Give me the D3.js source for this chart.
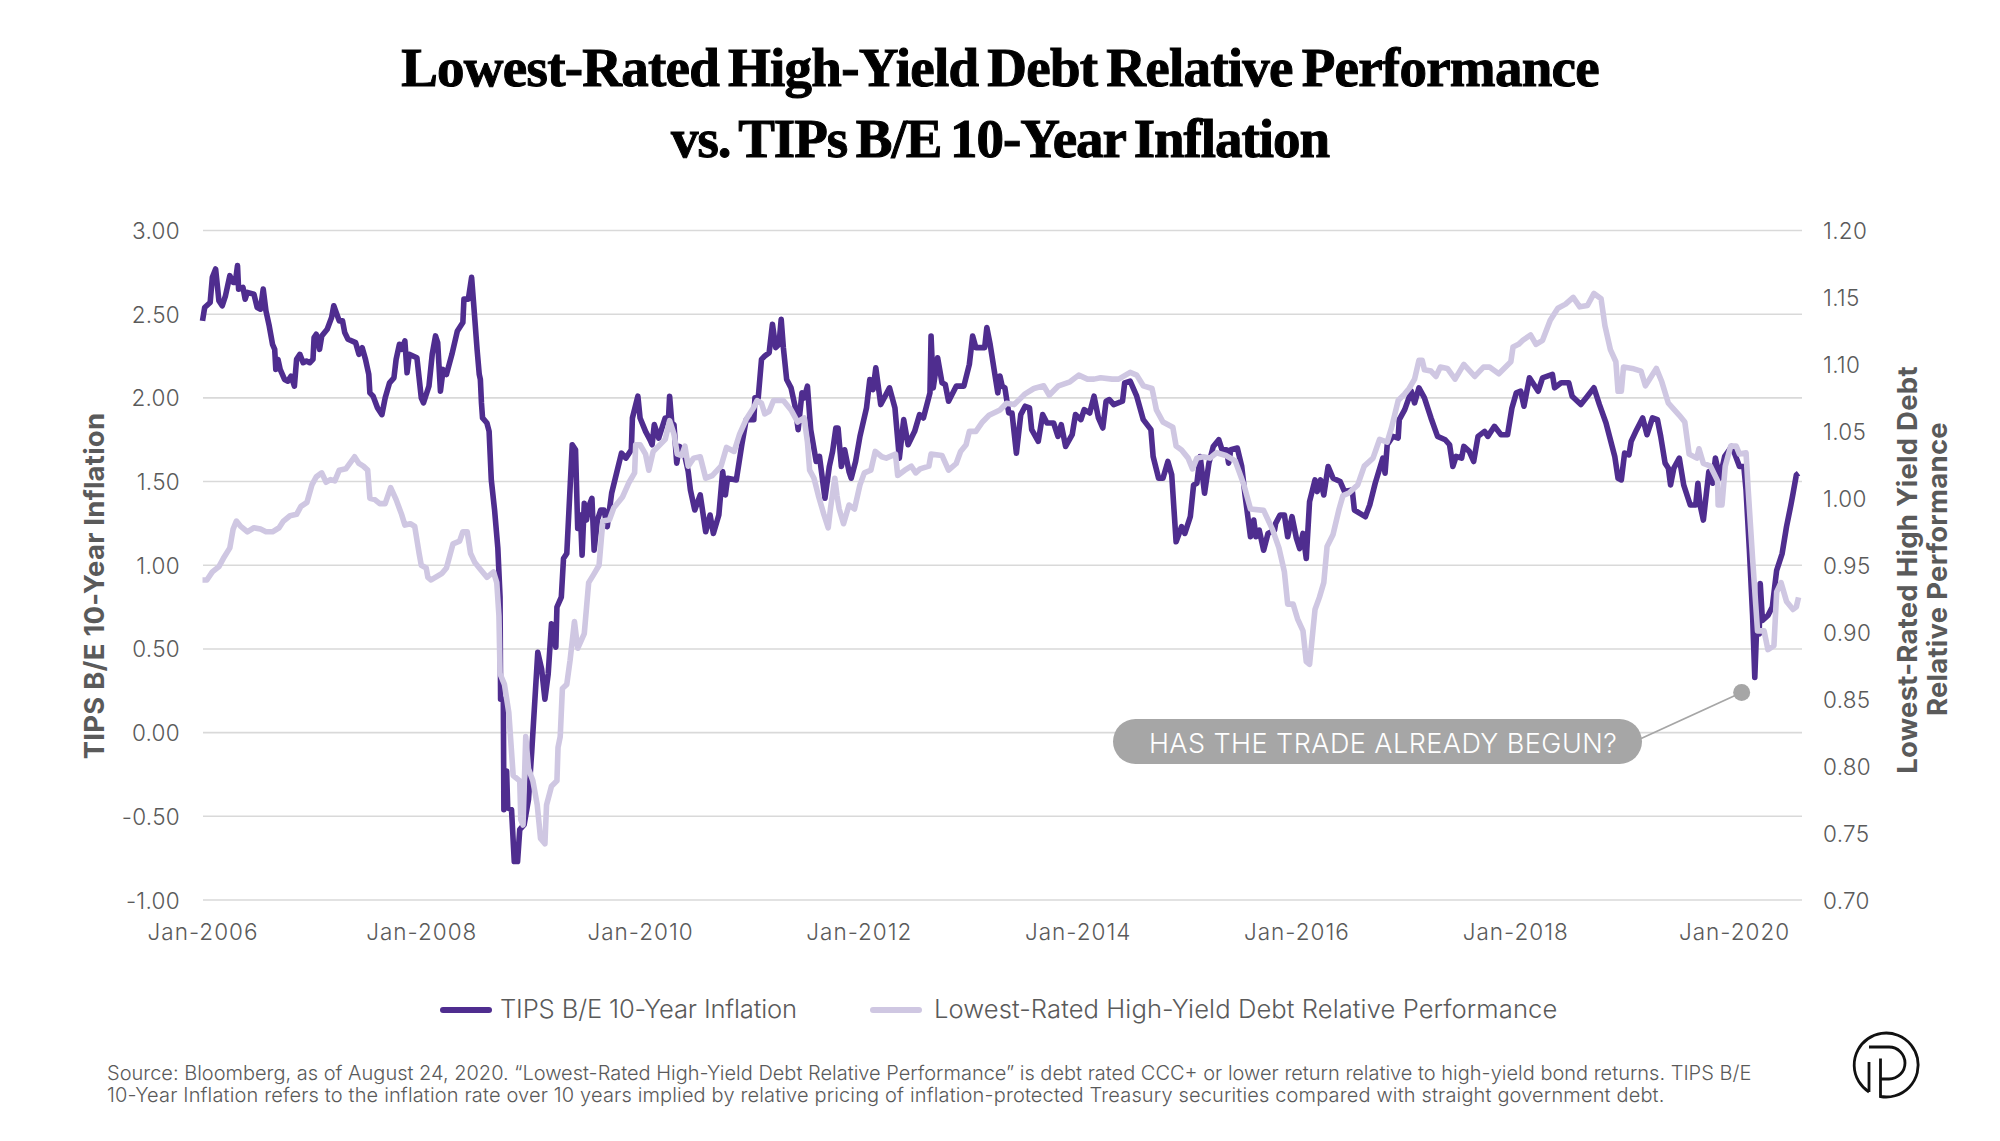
<!DOCTYPE html>
<html>
<head>
<meta charset="utf-8">
<script src="https://d3js.org/d3.v7.min.js"></script>
<style>
  html, body { margin: 0; padding: 0; background: #fff; }
  text { font-family: Inter, "Open Sans", sans-serif; }
</style>
</head>
<body>
<svg id="chart" width="2000" height="1141"></svg>
<script>
const titleLines = ['Lowest-Rated High-Yield Debt Relative Performance', 'vs. TIPs B/E 10-Year Inflation'];
const sourceLines = [
  'Source: Bloomberg, as of August 24, 2020. \u201cLowest-Rated High-Yield Debt Relative Performance\u201d is debt rated CCC+ or lower return relative to high-yield bond returns. TIPS B/E',
  '10-Year Inflation refers to the inflation rate over 10 years implied by relative pricing of inflation-protected Treasury securities compared with straight government debt.'
];
const xTicks = [2006, 2008, 2010, 2012, 2014, 2016, 2018, 2020];
const leftTicks = [3, 2.5, 2, 1.5, 1, 0.5, 0, -0.5, -1];
const rightTicks = [1.2, 1.15, 1.1, 1.05, 1, 0.95, 0.9, 0.85, 0.8, 0.75, 0.7];

const tipsYears = [
  2006.00,2006.02,2006.07,2006.09,2006.12,2006.15,2006.18,2006.21,2006.25,2006.28,
  2006.30,2006.32,2006.33,2006.37,2006.39,2006.41,2006.47,2006.50,2006.53,2006.555,
  2006.58,2006.61,2006.64,2006.66,2006.67,2006.69,2006.71,2006.75,2006.78,2006.81,
  2006.84,2006.86,2006.89,2006.92,2006.95,2006.98,2007.01,2007.02,2007.04,2007.07,
  2007.09,2007.14,2007.18,2007.20,2007.25,2007.28,2007.30,2007.33,2007.40,2007.43,
  2007.46,2007.49,2007.52,2007.53,2007.56,2007.60,2007.64,2007.67,2007.71,2007.75,
  2007.77,2007.80,2007.82,2007.85,2007.87,2007.89,2007.96,2008.00,2008.02,2008.07,
  2008.10,2008.13,2008.15,2008.175,2008.20,2008.23,2008.28,2008.33,2008.38,2008.39,
  2008.43,2008.46,2008.48,2008.51,2008.53,2008.54,2008.55,2008.56,2008.60,2008.62,
  2008.64,2008.67,2008.70,2008.72,2008.725,2008.75,2008.755,2008.78,2008.79,2008.825,
  2008.85,2008.88,2008.90,2008.94,2008.98,2009.01,2009.065,2009.10,2009.13,2009.16,
  2009.19,2009.23,2009.24,2009.28,2009.30,2009.33,2009.38,2009.41,2009.43,2009.455,
  2009.47,2009.49,2009.51,2009.53,2009.56,2009.58,2009.61,2009.64,2009.67,2009.70,
  2009.74,2009.80,2009.83,2009.87,2009.92,2009.93,2009.98,2010.00,2010.05,2010.09,
  2010.11,2010.13,2010.17,2010.23,2010.26,2010.27,2010.29,2010.31,2010.335,2010.36,
  2010.40,2010.44,2010.46,2010.50,2010.55,2010.60,2010.64,2010.67,2010.72,2010.755,
  2010.78,2010.80,2010.88,2010.93,2010.97,2011.04,2011.05,2011.08,2011.11,2011.14,
  2011.18,2011.21,2011.24,2011.27,2011.29,2011.31,2011.34,2011.38,2011.42,2011.445,
  2011.48,2011.50,2011.53,2011.56,2011.61,2011.64,2011.69,2011.73,2011.76,2011.79,
  2011.81,2011.84,2011.87,2011.91,2011.93,2011.97,2012.01,2012.07,2012.10,2012.13,
  2012.155,2012.20,2012.28,2012.33,2012.37,2012.41,2012.45,2012.51,2012.555,2012.59,
  2012.65,2012.66,2012.68,2012.72,2012.76,2012.79,2012.82,2012.89,2012.96,2013.01,
  2013.04,2013.07,2013.15,2013.17,2013.20,2013.27,2013.29,2013.31,2013.335,2013.37,
  2013.40,2013.44,2013.48,2013.52,2013.56,2013.58,2013.64,2013.68,2013.72,2013.78,
  2013.82,2013.85,2013.89,2013.95,2013.98,2014.03,2014.06,2014.11,2014.15,2014.19,
  2014.23,2014.26,2014.29,2014.33,2014.41,2014.43,2014.48,2014.54,2014.60,2014.67,
  2014.69,2014.74,2014.78,2014.825,2014.86,2014.90,2014.95,2014.98,2015.03,2015.06,
  2015.09,2015.12,2015.16,2015.20,2015.24,2015.29,2015.32,2015.36,2015.38,2015.40,
  2015.46,2015.50,2015.53,2015.58,2015.61,2015.63,2015.66,2015.70,2015.74,2015.80,
  2015.81,2015.85,2015.89,2015.92,2015.96,2016.00,2016.03,2016.06,2016.09,2016.12,
  2016.17,2016.19,2016.22,2016.25,2016.29,2016.335,2016.40,2016.44,2016.51,2016.53,
  2016.58,2016.63,2016.67,2016.72,2016.79,2016.81,2016.83,2016.88,2016.93,2016.94,
  2016.99,2017.05,2017.08,2017.12,2017.17,2017.23,2017.29,2017.36,2017.40,2017.43,
  2017.46,2017.51,2017.53,2017.58,2017.62,2017.66,2017.72,2017.75,2017.81,2017.87,
  2017.93,2017.97,2018.01,2018.05,2018.08,2018.13,2018.21,2018.25,2018.34,2018.36,
  2018.42,2018.49,2018.52,2018.60,2018.66,2018.72,2018.77,2018.83,2018.87,2018.91,
  2018.94,2018.97,2019.00,2019.04,2019.06,2019.11,2019.165,2019.205,2019.255,2019.30,
  2019.33,2019.37,2019.40,2019.42,2019.45,2019.50,2019.54,2019.60,2019.65,2019.67,
  2019.69,2019.72,2019.77,2019.805,2019.83,2019.87,2019.915,2019.98,2020.01,2020.05,
  2020.09,2020.11,2020.14,2020.17,2020.19,2020.205,2020.23,2020.24,2020.26,2020.31,
  2020.35,2020.39,2020.44,2020.48,2020.52,2020.54,2020.57,2020.59
];
const tipsValues = [
  2.46,2.54,2.57,2.72,2.77,2.58,2.55,2.61,2.73,2.69,
  2.69,2.79,2.65,2.66,2.59,2.63,2.62,2.54,2.53,2.65,
  2.52,2.43,2.32,2.29,2.17,2.23,2.17,2.11,2.10,2.13,
  2.07,2.23,2.26,2.21,2.22,2.21,2.23,2.36,2.38,2.29,
  2.37,2.41,2.48,2.55,2.46,2.46,2.39,2.35,2.33,2.26,
  2.30,2.23,2.14,2.03,2.01,1.94,1.90,2.00,2.09,2.12,
  2.23,2.32,2.29,2.34,2.15,2.26,2.24,2.00,1.97,2.07,
  2.26,2.37,2.33,2.04,2.17,2.14,2.26,2.40,2.45,2.59,
  2.59,2.72,2.55,2.29,2.14,2.11,1.97,1.88,1.85,1.80,
  1.51,1.33,1.10,0.81,0.20,0.20,-0.46,-0.23,-0.45,-0.46,
  -0.77,-0.77,-0.58,-0.55,-0.40,-0.11,0.48,0.38,0.20,0.35,
  0.65,0.51,0.75,0.81,1.04,1.07,1.72,1.69,1.22,1.30,
  1.06,1.37,1.27,1.35,1.40,1.09,1.27,1.33,1.33,1.23,
  1.43,1.59,1.67,1.64,1.69,1.88,2.01,1.88,1.80,1.75,
  1.72,1.84,1.76,1.88,1.88,2.01,1.85,1.84,1.61,1.71,
  1.68,1.56,1.45,1.33,1.42,1.20,1.30,1.19,1.30,1.56,
  1.42,1.52,1.51,1.72,1.87,1.87,2.00,2.00,2.23,2.25,
  2.27,2.44,2.30,2.32,2.47,2.30,2.11,2.06,1.94,1.81,
  2.03,2.00,2.07,1.81,1.62,1.65,1.40,1.59,1.68,1.82,
  1.82,1.59,1.69,1.56,1.52,1.62,1.77,1.94,2.11,2.05,
  2.18,1.96,2.06,1.94,1.64,1.87,1.72,1.80,1.90,1.88,
  2.03,2.37,2.06,2.24,2.09,2.08,1.98,2.07,2.07,2.20,
  2.37,2.30,2.30,2.42,2.32,2.03,2.13,2.07,2.06,1.91,
  1.91,1.67,1.90,1.95,1.94,1.81,1.74,1.90,1.85,1.85,
  1.77,1.84,1.71,1.78,1.90,1.87,1.93,1.91,2.01,1.88,
  1.82,1.98,1.99,1.96,1.98,2.09,2.10,2.01,1.87,1.81,
  1.65,1.52,1.52,1.62,1.54,1.14,1.23,1.19,1.29,1.48,
  1.49,1.65,1.43,1.61,1.71,1.75,1.69,1.69,1.61,1.69,
  1.70,1.59,1.42,1.17,1.27,1.17,1.21,1.09,1.19,1.21,
  1.25,1.30,1.30,1.17,1.29,1.16,1.10,1.19,1.04,1.38,
  1.51,1.44,1.51,1.42,1.59,1.52,1.50,1.44,1.45,1.33,
  1.31,1.29,1.36,1.49,1.64,1.55,1.72,1.77,1.76,1.87,
  1.93,2.04,1.97,2.06,2.00,1.88,1.77,1.75,1.72,1.59,
  1.65,1.64,1.71,1.68,1.62,1.77,1.80,1.77,1.83,1.78,
  1.78,1.94,2.03,2.04,1.95,2.12,2.04,2.12,2.14,2.06,
  2.09,2.09,2.01,1.96,2.01,2.06,1.96,1.85,1.75,1.65,
  1.52,1.51,1.67,1.66,1.74,1.81,1.88,1.78,1.88,1.87,
  1.77,1.61,1.58,1.48,1.58,1.64,1.48,1.36,1.36,1.49,
  1.36,1.27,1.56,1.49,1.64,1.52,1.65,1.71,1.66,1.59,
  1.59,1.45,1.10,0.70,0.33,0.59,0.59,0.89,0.67,0.70,
  0.75,0.97,1.07,1.23,1.36,1.43,1.54,1.55
];

const perfYears = [
  2006.00,2006.04,2006.09,2006.15,2006.19,2006.25,2006.28,2006.31,2006.35,2006.41,
  2006.47,2006.53,2006.58,2006.64,2006.70,2006.74,2006.80,2006.86,2006.90,2006.955,
  2007.00,2007.04,2007.09,2007.13,2007.17,2007.21,2007.25,2007.31,2007.39,2007.43,
  2007.47,2007.51,2007.53,2007.575,2007.62,2007.67,2007.72,2007.77,2007.82,2007.85,
  2007.90,2007.94,2007.98,2008.00,2008.045,2008.06,2008.09,2008.19,2008.23,2008.29,
  2008.35,2008.38,2008.42,2008.45,2008.49,2008.53,2008.60,2008.66,2008.69,2008.71,
  2008.72,2008.76,2008.80,2008.84,2008.90,2008.91,2008.93,2008.955,2008.98,2009.02,
  2009.06,2009.09,2009.13,2009.145,2009.19,2009.24,2009.25,2009.27,2009.29,2009.33,
  2009.36,2009.40,2009.43,2009.49,2009.53,2009.575,2009.625,2009.66,2009.72,2009.76,
  2009.84,2009.90,2009.95,2009.96,2010.00,2010.05,2010.08,2010.12,2010.17,2010.23,
  2010.27,2010.31,2010.34,2010.38,2010.41,2010.44,2010.49,2010.55,2010.60,2010.66,
  2010.74,2010.79,2010.86,2010.91,2010.97,2011.04,2011.07,2011.11,2011.14,2011.18,
  2011.22,2011.31,2011.38,2011.44,2011.50,2011.53,2011.55,2011.59,2011.63,2011.68,
  2011.72,2011.74,2011.78,2011.80,2011.82,2011.86,2011.91,2011.96,2012.01,2012.05,
  2012.11,2012.15,2012.21,2012.25,2012.335,2012.355,2012.42,2012.48,2012.52,2012.56,
  2012.64,2012.66,2012.76,2012.82,2012.89,2012.93,2012.98,2013.01,2013.07,2013.13,
  2013.19,2013.29,2013.35,2013.42,2013.52,2013.60,2013.69,2013.74,2013.825,2013.93,
  2014.01,2014.09,2014.15,2014.21,2014.315,2014.375,2014.48,2014.54,2014.60,2014.68,
  2014.72,2014.78,2014.87,2014.90,2014.95,2015.01,2015.05,2015.09,2015.15,2015.21,
  2015.27,2015.355,2015.44,2015.52,2015.58,2015.70,2015.78,2015.84,2015.89,2015.92,
  2015.97,2016.01,2016.06,2016.09,2016.12,2016.17,2016.21,2016.25,2016.28,2016.335,
  2016.39,2016.425,2016.48,2016.56,2016.62,2016.70,2016.76,2016.83,2016.87,2016.93,
  2016.99,2017.03,2017.08,2017.12,2017.15,2017.17,2017.23,2017.275,2017.315,2017.38,
  2017.45,2017.53,2017.63,2017.71,2017.765,2017.85,2017.96,2017.98,2018.03,2018.07,
  2018.14,2018.19,2018.25,2018.32,2018.39,2018.46,2018.53,2018.59,2018.66,2018.72,
  2018.785,2018.82,2018.87,2018.92,2018.94,2018.97,2018.99,2019.07,2019.15,2019.19,
  2019.29,2019.34,2019.40,2019.50,2019.55,2019.59,2019.66,2019.68,2019.72,2019.785,
  2019.85,2019.855,2019.89,2019.92,2019.97,2020.02,2020.05,2020.11,2020.13,2020.17,
  2020.215,2020.275,2020.31,2020.365,2020.39,2020.43,2020.48,2020.54,2020.57,2020.59
];
const perfValues = [
  .939,.939,.945,.949,.955,.963,.977,.983,.979,.975,
  .978,.977,.975,.975,.978,.983,.987,.988,.994,.997,
  1.010,1.016,1.019,1.012,1.014,1.013,1.021,1.022,1.031,1.026,
  1.024,1.021,1.000,.999,.996,.996,1.008,.999,.988,.980,
  .981,.979,.959,.950,.948,.941,.939,.944,.948,.966,
  .968,.975,.975,.959,.952,.948,.941,.945,.937,.912,
  .869,.861,.840,.793,.789,.760,.756,.822,.798,.789,
  .771,.746,.742,.771,.785,.789,.814,.822,.858,.861,
  .879,.908,.888,.899,.937,.943,.950,.983,.984,.993,
  1.001,1.012,1.019,1.040,1.040,1.033,1.021,1.035,1.039,1.044,
  1.058,1.048,1.033,1.032,1.039,1.024,1.030,1.031,1.015,1.017,
  1.024,1.038,1.035,1.048,1.059,1.068,1.073,1.071,1.063,1.065,
  1.073,1.073,1.066,1.057,1.060,1.042,1.021,1.015,1.002,.988,
  .978,.992,1.015,1.002,.992,.981,.995,.992,1.010,1.019,
  1.021,1.035,1.031,1.030,1.033,1.017,1.021,1.024,1.019,1.022,
  1.024,1.033,1.032,1.021,1.026,1.035,1.040,1.050,1.050,1.057,
  1.062,1.066,1.071,1.070,1.078,1.082,1.084,1.077,1.084,1.087,
  1.092,1.089,1.089,1.090,1.089,1.089,1.094,1.092,1.084,1.082,
  1.066,1.057,1.053,1.039,1.036,1.030,1.022,1.030,1.031,1.030,
  1.034,1.032,1.028,1.010,.992,.991,.977,.963,.945,.921,
  .921,.910,.901,.878,.876,.917,.926,.937,.964,.973,
  .992,1.002,1.004,1.010,1.024,1.030,1.044,1.042,1.053,1.073,
  1.078,1.082,1.089,1.103,1.103,1.096,1.095,1.091,1.098,1.097,
  1.089,1.100,1.091,1.098,1.098,1.093,1.102,1.113,1.115,1.118,
  1.122,1.115,1.118,1.133,1.142,1.145,1.150,1.143,1.144,1.153,
  1.149,1.129,1.111,1.102,1.080,1.080,1.098,1.097,1.095,1.084,
  1.097,1.087,1.071,1.062,1.057,1.033,1.030,1.037,1.026,1.024,
  1.013,.995,.995,1.024,1.039,1.039,1.033,1.034,1.006,.955,
  .901,.901,.887,.890,.930,.937,.923,.917,.919,.926
];

const legendLabels = ['TIPS B/E 10-Year Inflation', 'Lowest-Rated High-Yield Debt Relative Performance'];
const calloutText = 'HAS THE TRADE ALREADY BEGUN?';
const calloutPoint = { year: 2020.07, value: 0.24 };

const purple = '#4f2d8f', lilac = '#cfc7e2', grey = '#a6a6a6', textGrey = '#5a5a5a';

const svg = d3.select('#chart');

// both y axes cover the same pixel span, so the two series sit on one grid
const x = d3.scaleLinear().domain([2006, 2020]).range([202.5, 1734]);
const yLeft = d3.scaleLinear().domain([-1, 3]).range([900, 230.5]);
const yRight = d3.scaleLinear().domain([0.7, 1.2]).range([900, 230.5]);
const gridLeft = 203, gridRight = 1802;

/* title */
svg.selectAll('.title').data(titleLines).join('text')
  .attr('class', 'title')
  .attr('x', 1000)
  .attr('y', (d, i) => 86 + i * 71)
  .attr('text-anchor', 'middle')
  .style('font-family', '"Liberation Serif", serif')
  .style('font-weight', 700)
  .style('font-size', '55px')
  .style('letter-spacing', (d, i) => i ? '-1.05px' : '-0.75px')
  .style('word-spacing', '-4px')
  .style('stroke', '#000')
  .style('stroke-width', '1px')
  .style('fill', '#000')
  .text(d => d);

/* grid */
svg.append('g').selectAll('line').data(leftTicks).join('line')
  .attr('x1', gridLeft).attr('x2', gridRight)
  .attr('y1', d => yLeft(d)).attr('y2', d => yLeft(d))
  .attr('stroke', '#d9d9d9').attr('stroke-width', 1.6);

/* axes */
function styleAxis(g, spacing) {
  g.select('.domain').remove();
  g.selectAll('.tick line').remove();
  g.selectAll('text')
    .style('font-family', 'Inter, sans-serif')
    .style('font-weight', 300)
    .style('font-size', '22.5px')
    .style('letter-spacing', spacing)
    .style('fill', textGrey);
}

svg.append('g').attr('transform', `translate(${gridLeft - 23},0.8)`)
  .call(d3.axisLeft(yLeft).tickValues(leftTicks).tickSize(0).tickPadding(0).tickFormat(d => d.toFixed(2)))
  .call(styleAxis, '0.3px');

svg.append('g').attr('transform', 'translate(1823,0.8)')
  .call(d3.axisRight(yRight).tickValues(rightTicks).tickSize(0).tickPadding(0).tickFormat(d => d.toFixed(2)))
  .call(styleAxis, '0.3px');

svg.append('g').attr('transform', 'translate(0,924)')
  .call(d3.axisBottom(x).tickValues(xTicks).tickSize(0).tickPadding(0).tickFormat(d => `Jan-${d}`))
  .call(styleAxis, '1px');

/* axis titles */
const axisTitle = (tx, cy, label) => svg.append('text')
  .attr('transform', `translate(${tx},${cy}) rotate(-90)`)
  .attr('text-anchor', 'middle')
  .style('font-weight', 700)
  .style('font-size', '27.5px')
  .style('letter-spacing', '0.25px')
  .style('fill', textGrey)
  .text(label);

axisTitle(103.5, 586, 'TIPS B/E 10-Year Inflation');
axisTitle(1917, 570, 'Lowest-Rated High Yield Debt');
axisTitle(1947, 569, 'Relative Performance');

/* series */
const tipsData = tipsYears.map((y, i) => ({ year: y, value: tipsValues[i] }));
const perfData = perfYears.map((y, i) => ({ year: y, value: perfValues[i] }));

const tipsLine = d3.line().x(d => x(d.year)).y(d => yLeft(d.value));
const perfLine = d3.line().x(d => x(d.year)).y(d => yRight(d.value));

svg.append('path').datum(tipsData)
  .attr('d', tipsLine).attr('fill', 'none')
  .attr('stroke', purple).attr('stroke-width', 5.6).attr('stroke-linejoin', 'round');
svg.append('path').datum(perfData)
  .attr('d', perfLine).attr('fill', 'none')
  .attr('stroke', lilac).attr('stroke-width', 5.6).attr('stroke-linejoin', 'round');

/* callout */
svg.append('line')
  .attr('x1', 1640).attr('y1', 739)
  .attr('x2', x(calloutPoint.year)).attr('y2', yLeft(calloutPoint.value))
  .attr('stroke', grey).attr('stroke-width', 1.8);
svg.append('circle')
  .attr('cx', x(calloutPoint.year)).attr('cy', yLeft(calloutPoint.value)).attr('r', 8.5)
  .attr('fill', grey);
svg.append('rect')
  .attr('x', 1113).attr('y', 719).attr('width', 529).attr('height', 45).attr('rx', 22.5)
  .attr('fill', grey);
svg.append('text')
  .attr('x', 1383).attr('y', 753)
  .attr('text-anchor', 'middle')
  .style('font-weight', 300)
  .style('font-size', '27px')
  .style('letter-spacing', '0.45px')
  .style('fill', '#fff')
  .text(calloutText);

/* legend */
const legendRows = [
  { color: purple, x0: 440, tx: 500, spacing: '-0.15px', label: legendLabels[0] },
  { color: lilac, x0: 870, tx: 934, spacing: '0.08px', label: legendLabels[1] }
];
legendRows.forEach(r => {
  svg.append('rect').attr('x', r.x0).attr('y', 1007).attr('width', 52).attr('height', 6).attr('rx', 3).attr('fill', r.color);
  svg.append('text').attr('x', r.tx).attr('y', 1018)
    .style('font-weight', 300).style('font-size', '25.6px').style('letter-spacing', r.spacing).style('fill', textGrey)
    .text(r.label);
});

/* source */
svg.selectAll('.source').data(sourceLines).join('text')
  .attr('class', 'source')
  .attr('x', 107)
  .attr('y', (d, i) => 1080 + i * 22)
  .style('font-weight', 300)
  .style('font-size', '20px')
  .style('letter-spacing', (d, i) => i ? '0.15px' : '0px')
  .style('fill', textGrey)
  .text(d => d);

/* logo */
const logo = svg.append('g').attr('transform', 'translate(1886,1065)')
  .attr('fill', 'none').attr('stroke', '#111').attr('stroke-width', 2.8);
logo.append('path').attr('d', 'M-17,27 A32,32 0 1 1 -5.5,31.5 V-6.5');
logo.append('path').attr('d', 'M-17,27 V-3');
logo.append('path').attr('d', 'M-17,-18 H3 A16,16 0 0 1 3,14 H-5.5');
</script>
</body>
</html>
